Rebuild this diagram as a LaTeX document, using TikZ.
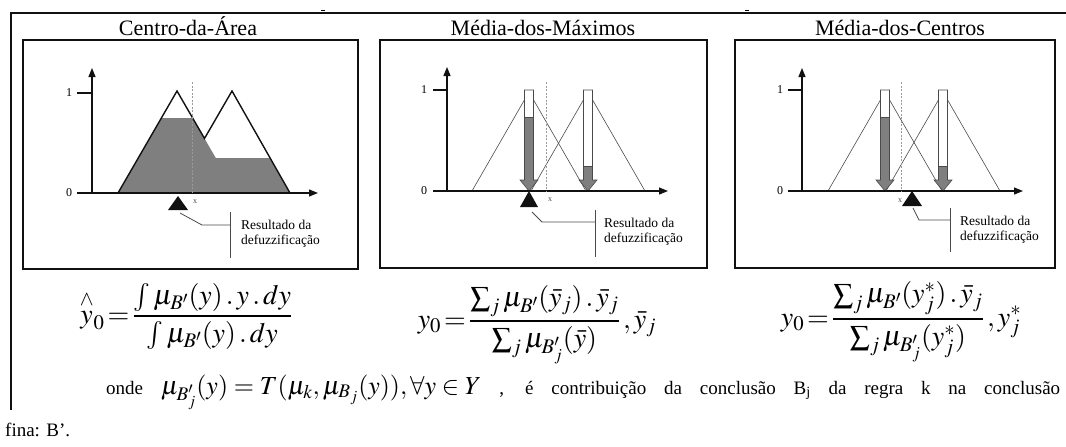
\documentclass[tikz,border=0pt]{standalone}
\usepackage{amsmath}
\usepackage{mathptmx}
\usepackage{fontspec}
\setmainfont{Liberation Serif}
\usepackage{tikz}
\usetikzlibrary{arrows.meta,calc}
\definecolor{DefInk}{HTML}{111111}
\definecolor{DefShade}{HTML}{7F7F7F}
\definecolor{DefDash}{HTML}{9A9A9A}
\definecolor{DefLine}{HTML}{4A4A4A}
% block arrow: #1 = x of the arrow, #2 = level where the grey part starts
\newcommand\blkarrow[2]{%
\fill[DefShade] (#1-4.5,#2) -- (#1+4.5,#2) -- (#1+4.5,180) -- (#1+9,180) -- (#1,191) -- (#1-9,180) -- (#1-4.5,180) -- cycle;
\fill[white] (#1-4.5,90) rectangle (#1+4.5,#2);
\draw[thn] (#1-4.5,90) -- (#1+4.5,90) -- (#1+4.5,180) -- (#1+9,180) -- (#1,191) -- (#1-9,180) -- (#1-4.5,180) -- cycle;
\draw[thn] (#1-4.5,#2) -- (#1+4.5,#2);}

\begin{document}
\begin{tikzpicture}[x=1pt,y=-1pt]
\tikzset{frm/.style={line width=1.3pt,DefInk},ax/.style={-{Triangle[length=9pt,width=7pt]},line width=1.2pt,DefInk},tk/.style={line width=1.2pt,DefInk},mf/.style={line width=1.4pt,DefInk},thn/.style={line width=.6pt,DefLine},dsh/.style={DefDash,line width=.8pt,dash pattern=on 2pt off 1.5pt},ttl/.style={font=\fontsize{22}{24}\selectfont,anchor=base,inner sep=0pt},res/.style={font=\fontsize{13.5}{15.5}\selectfont,align=left,anchor=west,inner sep=0pt},lbl/.style={font=\fontsize{12}{14}\selectfont,inner sep=0pt},xl/.style={font=\fontsize{8}{9}\selectfont,inner sep=0pt,DefLine},cl/.style={line width=.8pt,DefLine},eq/.style={font=\fontsize{28}{30}\selectfont,inner sep=0pt,anchor=base}}
\useasboundingbox (0,0) rectangle (1066,447);
% outer frame
\draw[frm] (11,410) -- (11,13) -- (1066,13);
\draw[line width=1pt] (321,10) -- (325,10); \draw[line width=1pt] (745,10) -- (749,10);
% titles and boxes
\node[ttl] (t1) at (188,35) {Centro-da-Área};
\node[ttl] (t2) at (543,35) {Média-dos-Máximos};
\node[ttl] (t3) at (900,35) {Média-dos-Centros};
\draw[frm] (23,40) rectangle (358,269);
\draw[frm] (380,40) rectangle (707,268);
\draw[frm] (735,40) rectangle (1055,268);

% panel 1
\fill[DefShade] (118,193) -- (161.4,118) -- (192.6,118) -- (215.8,158) -- (269.8,158) -- (290,193) -- cycle;
\draw[mf,line join=miter] (118,193) -- (177,91) -- (204.5,138.5) -- (232,91) -- (290,193);
\draw[ax] (77,193) -- (318,193); \draw[ax] (92,193) -- (92,68); \draw[tk] (77,93) -- (92,93);
\node[lbl] (one1) at (69,93) {1}; \node[lbl] (zero1) at (69,193) {0};
\draw[dsh] (192,82) -- (192,193); \node[xl] (x1) at (195,202) {x};
\coordinate (p1) at (178,196); \fill[DefInk] (p1) -- ++(10,14) -- ++(-20,0) -- cycle;
\coordinate (c1) at (180,213); \coordinate (b1) at (230,225);
\draw[cl] (c1) -- (202,225) -- (b1); \draw[cl] (230,212) -- (230,258);
\node[res] (r1) at (241,234) {Resultado da\\defuzzificação};

% panel 2
\draw[thn] (472,191) -- (529,92) -- (586,191); \draw[thn] (531,191) -- (588,92) -- (645,191);
\blkarrow{529}{117} \blkarrow{588}{166}
\draw[ax] (433,191) -- (668,191); \draw[ax] (447,191) -- (447,67); \draw[tk] (433,90) -- (447,90);
\node[lbl] (one2) at (424,90) {1}; \node[lbl] (zero2) at (424,191) {0};
\draw[dsh] (546,82) -- (546,191); \node[xl] (x2) at (550,200) {x};
\coordinate (p2) at (529,191); \fill[DefInk] (p2) -- ++(9,16) -- ++(-18,0) -- cycle;
\coordinate (c2) at (532,212); \coordinate (b2) at (595,222);
\draw[cl] (c2) -- (542,222) -- (b2); \draw[cl] (595,210) -- (595,257);
\node[res] (r2) at (604,232) {Resultado da\\defuzzificação};

% panel 3
\draw[thn] (828,191) -- (885,92) -- (942,191); \draw[thn] (886,191) -- (943,92) -- (1000,191);
\blkarrow{885}{117} \blkarrow{943}{166}
\draw[ax] (788,191) -- (1023,191); \draw[ax] (802,191) -- (802,68); \draw[tk] (788,90) -- (802,90);
\node[lbl] (one3) at (780,90) {1}; \node[lbl] (zero3) at (780,191) {0};
\draw[dsh] (901,82) -- (901,191); \node[xl] (x3) at (900,201) {x};
\coordinate (p3) at (912,191); \fill[DefInk] (p3) -- ++(10,15) -- ++(-20,0) -- cycle;
\coordinate (c3) at (913,208); \coordinate (b3) at (950,220);
\draw[cl] (c3) -- (919,220) -- (b3); \draw[cl] (950,208) -- (950,252);
\node[res] (r3) at (960,230) {Resultado da\\defuzzificação};

% formulas
\node[eq] (f1) at (186,323) {$\overset{\wedge}{y}_0\,{=}\,\dfrac{\int\mu_{B'}(y)\,.\,y\,.\,dy}{\int\mu_{B'}(y)\,.\,dy}$};
\node[eq] (f2) at (537,328) {$y_0\,{=}\,\dfrac{\sum\nolimits_j\mu_{B'}(\bar y_j)\,.\,\bar y_j}{\sum\nolimits_j\mu_{B'_j}(\bar y)}\,,\bar y_j$};
\node[eq] (f3) at (901,326) {$y_0\,{=}\,\dfrac{\sum\nolimits_j\mu_{B'}(y^*_j)\,.\,\bar y_j}{\sum\nolimits_j\mu_{B'_j}(y^*_j)}\,,y^*_j$};
\node[anchor=base west,inner sep=0pt,font=\fontsize{19}{22}\selectfont] (txt) at (106,394) {\makebox[954pt][s]{onde \mbox{\fontsize{26}{28}\selectfont$\mu_{B'_j}(y)=T(\mu_k,\mu_{B_j}(y)),\forall y\in Y$} , é contribuição da conclusão B\textsubscript{j} da regra k na conclusão}};
\node[anchor=base west,inner sep=0pt,font=\fontsize{19}{22}\selectfont] (txt2) at (5,436) {fina: B’.};
\end{tikzpicture}
\end{document}
